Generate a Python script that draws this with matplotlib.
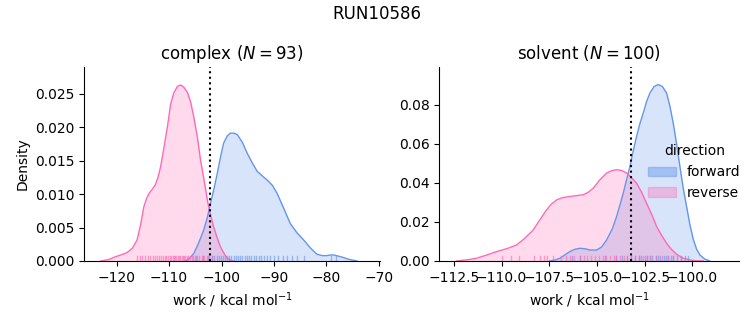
import matplotlib.pyplot as plt
from matplotlib.patches import Patch

forward_color = "#6495ED"
reverse_color = "#FF69B4"

# density curves (x = work, y = density)
cx_rev = [-123.0, -121.5, -120.5, -119.2, -118.0, -117.0, -116.1, -115.4, -114.8, -114.3,
          -113.8, -113.2, -112.6, -112.1, -111.6, -111.0, -110.3, -109.7, -109.1, -108.4,
          -107.8, -107.2, -106.5, -105.9, -105.3, -104.6, -104.0, -103.3, -102.7, -102.1,
          -101.5, -100.8, -100.2, -99.5, -98.9, -98.3, -97.7]
cy_rev = [0.0, 0.0002, 0.00055, 0.0009, 0.00125, 0.0019, 0.0031, 0.0055, 0.0081, 0.0093,
          0.0101, 0.0107, 0.0114, 0.0125, 0.0141, 0.0168, 0.0201, 0.0234, 0.0251, 0.0261,
          0.0263, 0.0260, 0.0252, 0.0238, 0.0216, 0.0185, 0.0151, 0.0120, 0.0091, 0.0069,
          0.0051, 0.0034, 0.0021, 0.0011, 0.0004, 0.0001, 0.0]
cx_fwd = [-106.9, -106.1, -105.3, -104.4, -103.4, -102.7, -102.1, -101.4, -100.8, -100.2,
          -99.6, -98.9, -98.3, -97.6, -97.0, -96.0, -95.1, -94.1, -93.2, -92.2,
          -91.3, -90.3, -89.4, -88.1, -86.9, -85.6, -84.3, -83.0, -81.8, -80.8,
          -79.9, -79.2, -78.6, -77.6, -76.7, -75.5, -74.2]
cy_fwd = [0.0, 0.0004, 0.0011, 0.0026, 0.0046, 0.0065, 0.0086, 0.0109, 0.0131, 0.0155,
          0.0176, 0.0187, 0.0191, 0.0191, 0.0189, 0.0177, 0.0161, 0.0146, 0.0134, 0.0127,
          0.0121, 0.0113, 0.0101, 0.0078, 0.0056, 0.0042, 0.0031, 0.0019, 0.0010, 0.0008,
          0.0008, 0.0009, 0.0009, 0.0007, 0.0005, 0.0002, 0.0]

sx_rev = [-112.36, -111.8, -111.31, -110.8, -110.26, -109.7, -109.21, -108.8, -108.34,
          -108.0, -107.64, -107.4, -107.11, -106.8, -106.42, -106.1, -105.72, -105.45,
          -105.19, -104.85, -104.49, -104.2, -103.97, -103.7, -103.44, -103.2, -102.92,
          -102.65, -102.40, -102.1, -101.87, -101.6, -101.35, -101.1, -100.82, -100.5,
          -100.12, -99.8, -99.43]
sy_rev = [0.0, 0.0006, 0.0014, 0.0030, 0.0048, 0.0064, 0.0082, 0.0115, 0.0159,
          0.0210, 0.0262, 0.0290, 0.0313, 0.0324, 0.0330, 0.0334, 0.0339, 0.0352,
          0.0373, 0.0415, 0.0450, 0.0463, 0.0467, 0.0463, 0.0450, 0.0428, 0.0398,
          0.0350, 0.0296, 0.0232, 0.0176, 0.0130, 0.0091, 0.0060, 0.0034, 0.0015,
          0.0005, 0.0001, 0.0]
sx_fwd = [-107.47, -107.2, -106.94, -106.7, -106.42, -106.15, -105.89, -105.6, -105.37,
          -105.02, -104.75, -104.49, -104.2, -103.97, -103.8, -103.62, -103.45, -103.27,
          -103.1, -102.92, -102.75, -102.57, -102.4, -102.22, -102.0, -101.79, -101.57,
          -101.35, -101.18, -101.00, -100.82, -100.65, -100.48, -100.30, -100.12, -99.94,
          -99.77, -99.60, -99.35, -99.08]
sy_fwd = [0.0, 0.0005, 0.0014, 0.0030, 0.0048, 0.0060, 0.0065, 0.0062, 0.0056,
          0.0056, 0.0072, 0.0108, 0.0163, 0.0227, 0.0285, 0.0347, 0.0415, 0.0484,
          0.0562, 0.0638, 0.0702, 0.0758, 0.0815, 0.0860, 0.0893, 0.0903, 0.0893,
          0.0860, 0.0795, 0.0706, 0.0597, 0.0484, 0.0375, 0.0279, 0.0183, 0.0108,
          0.0060, 0.0031, 0.0010, 0.0]

# rug positions (approximate)
c_rug_rev = [-116.2, -115.6, -115.1, -114.5, -114.0, -113.6, -113.1, -112.7, -112.2, -111.9,
             -111.5, -111.1, -110.8, -110.5, -110.2, -109.9, -109.6, -109.3, -109.1, -108.8,
             -108.6, -108.3, -108.1, -107.9, -107.6, -107.4, -107.1, -106.9, -106.6, -106.3,
             -106.0, -105.7, -105.4, -105.0, -104.6, -104.2, -103.8, -103.3, -102.8, -102.4,
             -101.8]
c_rug_fwd = [-104.8, -103.5, -102.6, -101.9, -101.4, -100.9, -100.5, -100.1, -99.7, -99.3,
             -98.9, -98.5, -98.1, -97.7, -97.3, -96.9, -96.5, -96.1, -95.6, -95.2,
             -94.8, -94.3, -93.9, -93.4, -92.9, -92.4, -91.9, -91.3, -90.7, -90.0,
             -89.2, -88.3, -87.5, -86.6, -85.6, -84.3, -79.2, -78.1]
s_rug_rev = [-110.0, -109.5, -109.1, -108.3, -108.0, -107.8, -107.6, -107.3, -106.9, -106.6,
             -106.4, -106.2, -105.9, -105.7, -105.5, -105.3, -105.1, -104.9, -104.7, -104.5,
             -104.3, -104.1, -104.0, -103.8, -103.6, -103.4, -103.2, -103.0, -102.8, -102.6,
             -102.4, -102.2, -101.9, -101.6, -101.3, -101.0, -100.6]
s_rug_fwd = [-106.3, -105.9, -104.6, -104.0, -103.7, -103.4, -103.2, -103.0, -102.8, -102.7,
             -102.5, -102.4, -102.2, -102.1, -101.9, -101.8, -101.7, -101.5, -101.4, -101.3,
             -101.1, -101.0, -100.8, -100.6, -100.4, -100.2]

complex_line = -102.1
solvent_line = -103.2

fig = plt.figure(figsize=(7.53, 3.25), dpi=100)
ax1 = fig.add_axes([0.1116, 0.197, 0.393, 0.597])
ax2 = fig.add_axes([0.5834, 0.197, 0.398, 0.597])


def draw_panel(ax, xf, yf, xr, yr, rug_f, rug_r, vline, title):
    for x, y, c in [(xf, yf, forward_color), (xr, yr, reverse_color)]:
        ax.fill_between(x, y, color=c, alpha=0.25, linewidth=0)
        ax.plot(x, y, color=c, lw=1)
    for vals, c in [(rug_f, forward_color), (rug_r, reverse_color)]:
        for v in vals:
            ax.axvline(v, ymin=0, ymax=0.025, color=c, lw=1, alpha=0.6)
    ax.axvline(vline, color="black", ls=":", lw=1.5)
    ax.set_title(title, fontsize=12)
    ax.set_xlabel("work / kcal mol$^{-1}$")
    ax.spines["top"].set_visible(False)
    ax.spines["right"].set_visible(False)


draw_panel(ax1, cx_fwd, cy_fwd, cx_rev, cy_rev, c_rug_fwd, c_rug_rev, complex_line,
           "complex ($N=93$)")
draw_panel(ax2, sx_fwd, sy_fwd, sx_rev, sy_rev, s_rug_fwd, s_rug_rev, solvent_line,
           "solvent ($N=100$)")

ax1.set_xlim(-126.2, -69.8)
ax1.set_ylim(0, 0.029)
ax1.set_xticks([-120, -110, -100, -90, -80, -70])
ax1.set_yticks([0.0, 0.005, 0.010, 0.015, 0.020, 0.025])
ax1.set_ylabel("Density")

ax2.set_xlim(-113.27, -97.55)
ax2.set_ylim(0, 0.0993)
ax2.set_xticks([-112.5, -110.0, -107.5, -105.0, -102.5, -100.0])
ax2.set_yticks([0.0, 0.02, 0.04, 0.06, 0.08])

fig.suptitle("RUN10586", fontsize=12, y=0.985)

handles = [Patch(facecolor=forward_color, edgecolor=forward_color, alpha=0.45),
           Patch(facecolor=reverse_color, edgecolor=reverse_color, alpha=0.35)]
fig.legend(handles, ["forward", "reverse"], title="direction", frameon=False,
           loc="center left", bbox_to_anchor=(0.844, 0.47))

fig.savefig("out.png", dpi=100)
